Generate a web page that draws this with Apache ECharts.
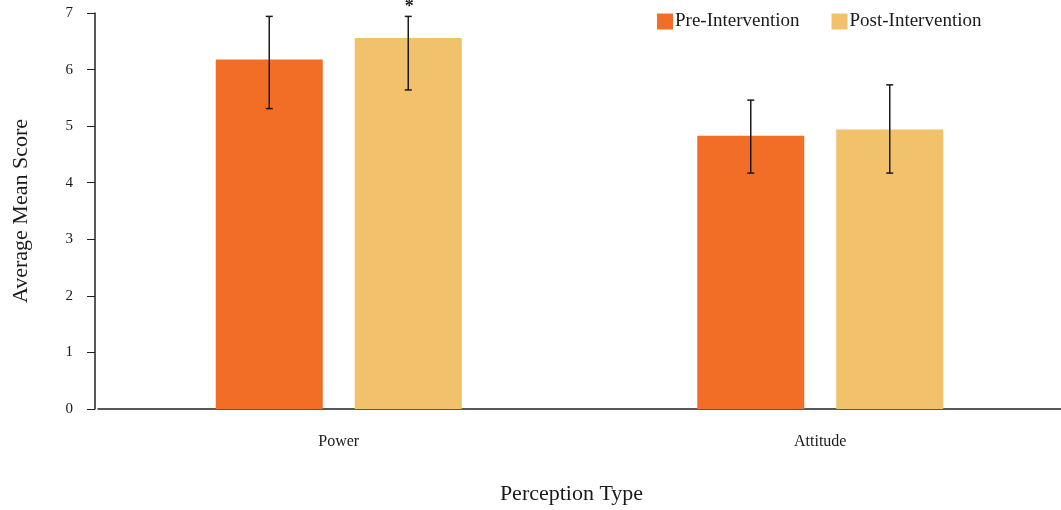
<!DOCTYPE html>
<html>
<head>
<meta charset="utf-8">
<script src="https://cdn.jsdelivr.net/npm/echarts@6/dist/echarts.min.js"></script>
<style>
  html, body { margin: 0; padding: 0; background: #fff; width: 100%; height: 100%; overflow: hidden; }
  #chart { width: 100vw; height: 100vh; }
</style>
</head>
<body>
<div id="chart"></div>
<script>
// Perception scores before and after the intervention (means with error ranges)
const categories = ['Power', 'Attitude'];
const seriesNames = ['Pre-Intervention', 'Post-Intervention'];
const preMeans = [6.18, 4.83];
const postMeans = [6.56, 4.94];
const preLow = [5.31, 4.17];
const preHigh = [6.94, 5.46];
const postLow = [5.64, 4.17];
const postHigh = [6.94, 5.73];
const postSig = ['*', ''];
const yTickMin = 0;
const yTickMax = 7;
const yTickStep = 1;

const FONT = '"Liberation Serif", "DejaVu Serif", serif';
const TEXT = '#1a1a1a';
const PRE_COLOR = '#f26e26';
const POST_COLOR = '#f1c16b';
const BAR_W = 107;
const BAR_GAP = 32;
const SHIFT = (BAR_W + BAR_GAP) / 2;

function errorBarRenderer(shift, marks) {
  return function (params, api) {
    const idx = api.value(0);
    const x = api.coord([idx, 0])[0] + shift;
    const yLo = api.coord([idx, api.value(1)])[1];
    const yHi = api.coord([idx, api.value(2)])[1];
    const style = { stroke: TEXT, lineWidth: 1.5 };
    const cap = 3.5;
    const children = [
      { type: 'line', shape: { x1: x, y1: yHi, x2: x, y2: yLo }, style },
      { type: 'line', shape: { x1: x - cap, y1: yHi, x2: x + cap, y2: yHi }, style },
      { type: 'line', shape: { x1: x - cap, y1: yLo, x2: x + cap, y2: yLo }, style }
    ];
    const mark = marks ? marks[params.dataIndex] : '';
    if (mark) {
      children.push({
        type: 'text',
        style: {
          text: mark, x: x + 1, y: yHi,
          align: 'center', verticalAlign: 'bottom',
          font: 'bold 18px ' + FONT, fill: TEXT
        }
      });
    }
    return { type: 'group', children };
  };
}

const chart = echarts.init(document.getElementById('chart'), null, { renderer: 'canvas' });
chart.setOption({
  animation: false,
  backgroundColor: '#ffffff',
  textStyle: { fontFamily: FONT, color: TEXT },
  grid: { left: 98, right: 0, top: 13, bottom: 95, containLabel: false },
  legend: {
    data: seriesNames,
    left: 657, top: 12, padding: 0,
    icon: 'rect', itemWidth: 16, itemHeight: 16, itemGap: 32,
    textStyle: { fontFamily: FONT, fontSize: 19, color: TEXT, padding: [3, 0, 0, -3] }
  },
  xAxis: {
    type: 'category',
    data: categories,
    name: 'Perception Type',
    nameLocation: 'middle',
    nameGap: 74,
    nameTextStyle: { fontFamily: FONT, fontSize: 22, color: TEXT, padding: [0, 16, 0, 0] },
    axisLine: { lineStyle: { color: '#222', width: 1.5 } },
    axisTick: { show: false },
    axisLabel: { fontFamily: FONT, fontSize: 16, color: TEXT, margin: 25 }
  },
  yAxis: {
    type: 'value',
    min: yTickMin, max: yTickMax, interval: yTickStep,
    offset: 3,
    name: 'Average Mean Score',
    nameLocation: 'middle',
    nameGap: 63,
    nameRotate: 90,
    nameTextStyle: { fontFamily: FONT, fontSize: 22, color: TEXT },
    axisLine: { show: true, lineStyle: { color: '#222', width: 1.5 } },
    axisTick: { show: true, length: 8, lineStyle: { color: '#222', width: 1 } },
    axisLabel: { fontFamily: FONT, fontSize: 15, color: TEXT, margin: 22 },
    splitLine: { show: false }
  },
  series: [
    {
      name: seriesNames[0], type: 'bar', data: preMeans,
      barWidth: BAR_W, barGap: (BAR_GAP / BAR_W * 100).toFixed(1) + '%',
      itemStyle: { color: PRE_COLOR }
    },
    {
      name: seriesNames[1], type: 'bar', data: postMeans,
      barWidth: BAR_W,
      itemStyle: { color: POST_COLOR }
    },
    {
      type: 'custom', z: 10,
      renderItem: errorBarRenderer(-SHIFT, null),
      encode: { x: 0, y: [1, 2] },
      data: categories.map((c, i) => [i, preLow[i], preHigh[i]])
    },
    {
      type: 'custom', z: 10,
      renderItem: errorBarRenderer(SHIFT, postSig),
      encode: { x: 0, y: [1, 2] },
      data: categories.map((c, i) => [i, postLow[i], postHigh[i]])
    }
  ]
});
</script>
</body>
</html>
